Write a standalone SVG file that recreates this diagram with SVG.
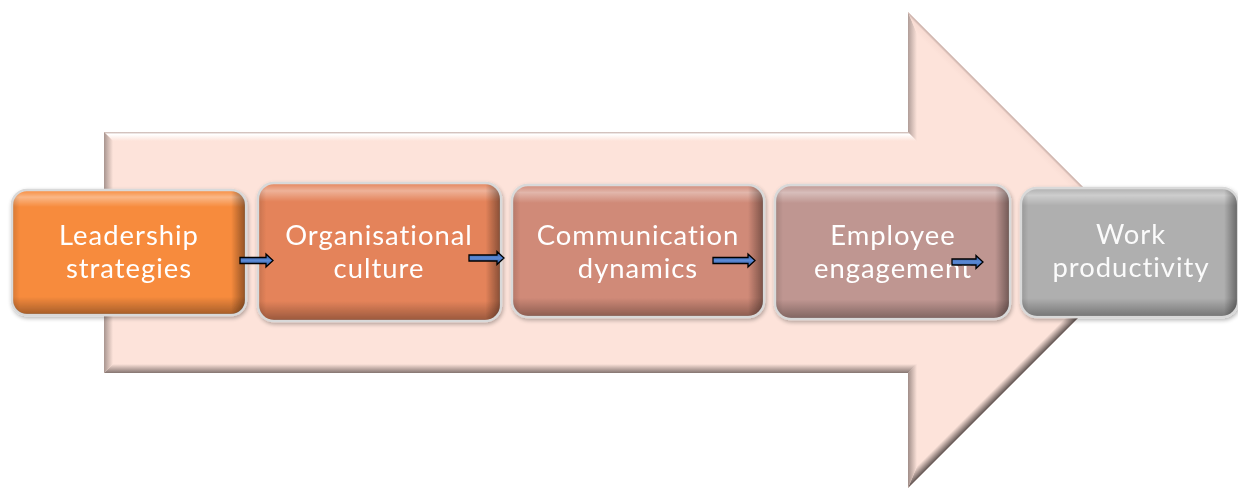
<svg xmlns="http://www.w3.org/2000/svg" width="1238" height="489" viewBox="0 0 1238 489">
  <defs>
    <style>
      .lbl { font-family: Lato, "Open Sans", "Liberation Sans", sans-serif; font-size: 27.4px; letter-spacing: 1px; fill: #ffffff; text-anchor: middle; }
      .frame { stroke: #d9d9d9; stroke-width: 2.5; }
      .link { fill: url(#linkFill); stroke: #000000; stroke-width: 1.3; stroke-linejoin: miter; }
    </style>
    <!-- sheen and edge shading shared by all process boxes -->
    <linearGradient id="sheenV" x1="0" y1="0" x2="0" y2="1">
      <stop offset="0" stop-color="#ffffff" stop-opacity="0.05"/>
      <stop offset="0.05" stop-color="#ffffff" stop-opacity="0.38"/>
      <stop offset="0.13" stop-color="#ffffff" stop-opacity="0"/>
      <stop offset="0.86" stop-color="#000000" stop-opacity="0"/>
      <stop offset="1" stop-color="#000000" stop-opacity="0.32"/>
    </linearGradient>
    <linearGradient id="sheenH" x1="0" y1="0" x2="1" y2="0">
      <stop offset="0" stop-color="#000000" stop-opacity="0.12"/>
      <stop offset="0.03" stop-color="#000000" stop-opacity="0"/>
      <stop offset="0.94" stop-color="#000000" stop-opacity="0"/>
      <stop offset="1" stop-color="#000000" stop-opacity="0.4"/>
    </linearGradient>
    <linearGradient id="linkFill" x1="0" y1="0" x2="0" y2="1">
      <stop offset="0" stop-color="#2f5597"/>
      <stop offset="0.5" stop-color="#5b8ad6"/>
      <stop offset="1" stop-color="#2f5597"/>
    </linearGradient>
    <filter id="soft" x="-10%" y="-10%" width="120%" height="130%">
      <feGaussianBlur in="SourceAlpha" stdDeviation="2"/>
      <feOffset dx="1" dy="2"/>
      <feComponentTransfer><feFuncA type="linear" slope="0.3"/></feComponentTransfer>
      <feMerge><feMergeNode/><feMergeNode in="SourceGraphic"/></feMerge>
    </filter>
    <!-- bevel gradients for the large background arrow -->
    <linearGradient id="bvTop" gradientUnits="userSpaceOnUse" x1="0" y1="132" x2="0" y2="141">
      <stop offset="0" stop-color="#c7b1ab"/>
      <stop offset="0.25" stop-color="#ffffff"/>
      <stop offset="1" stop-color="#fde3da"/>
    </linearGradient>
    <linearGradient id="bvLeft" gradientUnits="userSpaceOnUse" x1="104" y1="0" x2="113" y2="0">
      <stop offset="0" stop-color="#a8958f"/>
      <stop offset="1" stop-color="#fde3da"/>
    </linearGradient>
    <linearGradient id="bvBottom" gradientUnits="userSpaceOnUse" x1="0" y1="373" x2="0" y2="364">
      <stop offset="0" stop-color="#857571"/>
      <stop offset="1" stop-color="#fde3da"/>
    </linearGradient>
    <linearGradient id="bvHeadUp" gradientUnits="userSpaceOnUse" x1="908" y1="0" x2="917" y2="0">
      <stop offset="0" stop-color="#b09d98"/>
      <stop offset="1" stop-color="#fde3da"/>
    </linearGradient>
    <linearGradient id="bvHeadLow" gradientUnits="userSpaceOnUse" x1="908" y1="0" x2="917" y2="0">
      <stop offset="0" stop-color="#a08d88"/>
      <stop offset="1" stop-color="#fde3da"/>
    </linearGradient>
    <linearGradient id="bvDiagUp" gradientUnits="userSpaceOnUse" x1="1027" y1="131" x2="1020.6" y2="137.4">
      <stop offset="0" stop-color="#c2aaa4"/>
      <stop offset="0.3" stop-color="#f8dcd3"/>
      <stop offset="1" stop-color="#fde3da"/>
    </linearGradient>
    <linearGradient id="bvDiagLow" gradientUnits="userSpaceOnUse" x1="1027" y1="369" x2="1020.6" y2="362.6">
      <stop offset="0" stop-color="#5e5250"/>
      <stop offset="1" stop-color="#fde3da"/>
    </linearGradient>
  </defs>

  <rect width="1238" height="489" fill="#ffffff"/>

  <!-- large background arrow -->
  <g id="backdrop-arrow">
    <polygon points="104,132 908,132 908,12 1146,250 908,488 908,373 104,373" fill="#fde3da"/>
    <polygon points="104,132 908,132 917,141 113,141" fill="url(#bvTop)"/>
    <polygon points="908,132 908,12 917,33.7 917,141" fill="url(#bvHeadUp)"/>
    <polygon points="908,12 1146,250 1133.3,250 917,33.7" fill="url(#bvDiagUp)"/>
    <polygon points="1146,250 908,488 917,466.3 1133.3,250" fill="url(#bvDiagLow)"/>
    <polygon points="908,488 908,373 917,364 917,466.3" fill="url(#bvHeadLow)"/>
    <polygon points="908,373 104,373 113,364 917,364" fill="url(#bvBottom)"/>
    <polygon points="104,373 104,132 113,141 113,364" fill="url(#bvLeft)"/>
  </g>

  <!-- process boxes -->
  <g id="node-leadership" filter="url(#soft)">
    <rect class="frame" x="12" y="190" width="234" height="125" rx="15" fill="#f78b3d"/>
    <rect x="13" y="191" width="232" height="123" rx="14" fill="url(#sheenV)"/>
    <rect x="13" y="191" width="232" height="123" rx="14" fill="url(#sheenH)"/>
    <text class="lbl" x="129" y="245">Leadership</text>
    <text class="lbl" x="129" y="278">strategies</text>
  </g>

  <g id="node-culture" filter="url(#soft)">
    <rect class="frame" x="258" y="183" width="243" height="138" rx="16" fill="#e4835a"/>
    <rect x="259" y="184" width="241" height="136" rx="15" fill="url(#sheenV)"/>
    <rect x="259" y="184" width="241" height="136" rx="15" fill="url(#sheenH)"/>
    <text class="lbl" x="379" y="245">Organisational</text>
    <text class="lbl" x="379" y="278">culture</text>
  </g>

  <g id="node-communication" filter="url(#soft)">
    <rect class="frame" x="512" y="185" width="252" height="132" rx="16" fill="#d08a78"/>
    <rect x="513" y="186" width="250" height="130" rx="15" fill="url(#sheenV)"/>
    <rect x="513" y="186" width="250" height="130" rx="15" fill="url(#sheenH)"/>
    <text class="lbl" x="638" y="245">Communication</text>
    <text class="lbl" x="638" y="278">dynamics</text>
  </g>

  <g id="node-engagement" filter="url(#soft)">
    <rect class="frame" x="775" y="185" width="235" height="134" rx="16" fill="#bf9691"/>
    <rect x="776" y="186" width="233" height="132" rx="15" fill="url(#sheenV)"/>
    <rect x="776" y="186" width="233" height="132" rx="15" fill="url(#sheenH)"/>
    <text class="lbl" x="893" y="245">Employee</text>
    <text class="lbl" x="893" y="278">engagement</text>
  </g>

  <g id="node-productivity" filter="url(#soft)">
    <rect class="frame" x="1021" y="188" width="217" height="129" rx="16" fill="#afafaf"/>
    <rect x="1022" y="189" width="215" height="127" rx="15" fill="url(#sheenV)"/>
    <rect x="1022" y="189" width="215" height="127" rx="15" fill="url(#sheenH)"/>
    <text class="lbl" x="1131" y="244" fill-opacity="0.95">Work</text>
    <text class="lbl" x="1131" y="277" fill-opacity="0.95">productivity</text>
  </g>

  <!-- small block arrows linking the stages -->
  <g id="connectors">
    <path class="link" d="M240,257.5 H266 V254 L273,260.5 L266,267 V263.5 H240 Z"/>
    <path class="link" d="M469,255 H497 V251.5 L504,258 L497,264.5 V261 H469 Z"/>
    <path class="link" d="M713,257.5 H748 V254 L755,260.5 L748,267 V263.5 H713 Z"/>
    <path class="link" d="M952,259 H976 V255.5 L983,262 L976,268.5 V265 H952 Z"/>
  </g>
</svg>
